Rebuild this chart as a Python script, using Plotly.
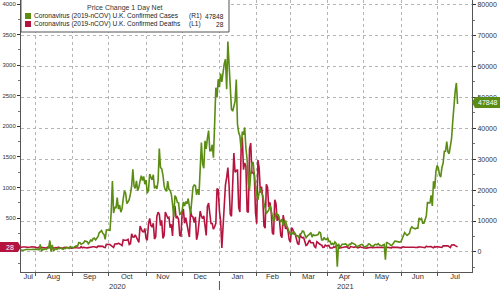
import pandas as pd
import plotly.graph_objects as go

# ---------------- data (daily, starting Sunday 2020-07-19) ----------------
START = "2020-07-19"
cases = [
    827, 580, 445, 560, 769, 767, 798,
    747, 685, 581, 763, 846, 880, 744,
    743, 758, 670, 2400, 150, 871, 758,
    1062, 816, 1148, 1400, 3700, 100, 2300,
    300, 713, 1089, 812, 1182, 1033, 1288,
    1041, 853, 1184, 1048, 1522, 1276, 1108,
    1715, 1406, 1295, 1508, 1735, 1940, 1813,
    2988, 2948, 2460, 2659, 2919, 3539, 3497,
    3330, 2621, 3105, 3991, 3395, 4322, 4422,
    3899, 4368, 4926, 6178, 6634, 6874, 6042,
    5693, 4044, 7143, 7108, 6914, 6968, 12872,
    22961, 12594, 14542, 14162, 17540, 13864, 15166,
    12872, 13972, 17234, 19724, 18980, 15650, 16171,
    16982, 18804, 21331, 26688, 21242, 20530, 23012,
    19790, 20890, 22885, 24701, 23065, 24405, 21915,
    23254, 18950, 20018, 25177, 24141, 23287, 24957,
    20572, 21350, 20412, 22950, 33470, 27301, 26860,
    24962, 21363, 20051, 19609, 22915, 20252, 19875,
    18662, 15450, 11299, 18213, 17555, 16022, 15871,
    12155, 12330, 13430, 16170, 14879, 16298, 15539,
    17272, 14718, 12282, 16578, 20964, 21672, 21502,
    18447, 20263, 18450, 25161, 35383, 28507, 27052,
    35928, 33364, 36804, 39237, 32725, 32725, 34693,
    30501, 41385, 53135, 50023, 55892, 53285, 57725,
    54990, 58784, 60916, 62322, 52618, 68053, 59937,
    54940, 46169, 45533, 47525, 48682, 55761, 41346,
    38598, 37535, 33355, 38905, 37892, 40261, 33552,
    30004, 22195, 20089, 25308, 28680, 29079, 23275,
    21088, 18607, 16840, 19202, 20634, 19114, 18262,
    15845, 14104, 12364, 13013, 13494, 15144, 13308,
    10972, 9765, 10625, 12718, 12057, 12027, 10406,
    9834, 10641, 8489, 9938, 9985, 8523, 7434,
    6035, 5455, 6391, 5766, 6573, 6040, 5177,
    5177, 4712, 5766, 5926, 6753, 6609, 5534,
    4618, 5089, 5294, 5758, 6303, 4802, 5587,
    5312, 5342, 5379, 5605, 6397, 6187, 3862,
    3862, 4654, 4040, 4052, 4479, 3402, 3423,
    2297, 2762, 2379, 3210, 2763, -4800, 2589,
    1730, 1882, 2472, 2491, 2672, 2596, 2206,
    1882, 2524, 2396, 2963, 2729, 2678, 2381,
    1712, 1907, 2064, 2166, 2411, 2381, 1671,
    1649, 1946, 1979, 2613, 2490, 2047, 1907,
    1770, 2357, 2474, 2284, 2657, 2193, 2027,
    1926, 2240, 2412, -2500, 3180, 2829, 2694,
    2235, 1979, 2439, 3180, 3542, 3398, 3240,
    3240, 3165, 3383, 4330, 5274, 6238, 5765,
    5341, 5683, 6048, 7540, 8125, 7738, 7490,
    7490, 7742, 7673, 11007, 10476, 10809, 9284,
    9284, 10633, 11625, 16135, 15810, 15810, 18270,
    14876, 22868, 20479, 26068, 27989, 27125, 24885,
    24248, 27334, 28773, 32548, 32551, 35707, 32367,
    31772, 34471, 36660, 42302, 48553, 51870, 54674,
    47848,
]
deaths = [
    24, 18, 26, 30, 22, 27, 20,
    19, 14, 25, 30, 22, 26, 20,
    12, 10, 24, 22, 18, 15, 13,
    11, 9, 24, 14, 19, 16, 17,
    11, 9, 18, 12, 22, 11, 8,
    8, 6, 22, 17, 18, 15, 18,
    7, 8, 9, 16, 18, 13, 12,
    8, 9, 32, 14, 20, 12, 15,
    11, 15, 30, 24, 26, 30, 30,
    22, 16, 40, 40, 42, 36, 36,
    20, 16, 71, 71, 59, 66, 49,
    33, 19, 76, 70, 77, 87, 81,
    65, 50, 143, 137, 138, 136, 150,
    67, 80, 241, 191, 189, 224, 174,
    151, 102, 367, 310, 280, 274, 326,
    162, 136, 397, 492, 378, 355, 413,
    156, 194, 532, 595, 563, 376, 462,
    168, 213, 598, 529, 501, 511, 341,
    398, 206, 608, 696, 498, 521, 479,
    215, 205, 603, 648, 414, 504, 397,
    231, 189, 616, 533, 516, 424, 519,
    144, 232, 506, 612, 532, 489, 534,
    326, 215, 691, 744, 570, 410, 410,
    316, 357, 414, 981, 964, 613, 445,
    10, 407, 830, 1041, 1162, 1325, 1035,
    563, 529, 1243, 1564, 1248, 1280, 1295,
    671, 599, 1610, 1820, 1290, 1401, 1348,
    610, 592, 1631, 1725, 1239, 1245, 1200,
    587, 406, 1449, 1322, 915, 1014, 828,
    373, 333, 1052, 1001, 678, 758, 621,
    258, 230, 799, 738, 454, 533, 445,
    215, 178, 548, 442, 323, 345, 290,
    144, 104, 343, 315, 242, 236, 158,
    82, 65, 231, 190, 175, 181, 121,
    52, 64, 110, 141, 95, 101, 96,
    33, 17, 112, 98, 70, 63, 58,
    19, 23, 56, 45, 51, 52, 10,
    10, 9, 26, 20, 45, 53, 40,
    7, 13, 23, 22, 27, 30, 32,
    10, 4, 33, 29, 22, 18, 32,
    17, 11, 17, 29, 22, 15, 15,
    10, 8, 14, 13, 19, 21, 16,
    14, 14, 18, 21, 19, 27, 17,
    14, 11, 15, 17, 22, 20, 16,
    14, 11, 24, 19, 20, 20, 20,
    16, 11, 11, 22, 28, 21, 22,
    14, 15, 23, 17, 27, 30, 22,
    18, 13, 19, 29, 29, 24, 21,
    17, 16, 37, 29, 31, 28, 33,
    21, 13, 33, 24, 32, 28, 28,
    25, 19, 47, 43, 45, 44, 44,
    36, 16, 60, 63, 63, 49, 41,
    28,
]
month_labels = ["Jul", "Aug", "Sep", "Oct", "Nov", "Dec", "Jan",
                "Feb", "Mar", "Apr", "May", "Jun", "Jul"]
month_label_dates = ["2020-07-26", "2020-08-16", "2020-09-15", "2020-10-16",
                     "2020-11-15", "2020-12-16", "2021-01-16", "2021-02-14",
                     "2021-03-16", "2021-04-15", "2021-05-16", "2021-06-15",
                     "2021-07-16"]
month_starts = ["2020-08-01", "2020-09-01", "2020-10-01", "2020-11-01",
                "2020-12-01", "2021-01-01", "2021-02-01", "2021-03-01",
                "2021-04-01", "2021-05-01", "2021-06-01", "2021-07-01"]
year_labels = ["2020", "2021"]
year_label_dates = ["2020-10-08", "2021-04-16"]
left_ticks = [0, 500, 1000, 1500, 2000, 2500, 3000, 3500, 4000]
right_ticks = [0, 10000, 20000, 30000, 40000, 50000, 60000, 70000, 80000]
cases_name = "Coronavirus (2019-nCOV) U.K. Confirmed Cases"
deaths_name = "Coronavirus (2019-nCOV) U.K. Confirmed Deaths"
cases_last = "47848"
deaths_last = "28"

# ---------------- styling ----------------
GREEN = "#5b8c14"
RED = "#b5143e"
FONT = "Liberation Sans"
W, H = 500, 290
ML, MR, MT, MB = 21, 28, 0, 18
PW, PH = W - ML - MR, H - MT - MB


def px(xp):
    return (xp - ML) / PW


def py(yp):
    return (H - MB - yp) / PH


dates = pd.date_range(START, periods=len(cases), freq="D")

fig = go.Figure()
fig.add_trace(go.Scatter(x=dates, y=deaths, yaxis="y", mode="lines",
                         line=dict(color=RED, width=1.6), showlegend=False,
                         name=deaths_name))
fig.add_trace(go.Scatter(x=dates, y=cases, yaxis="y2", mode="lines",
                         line=dict(color=GREEN, width=1.6), showlegend=False,
                         name=cases_name))

fig.update_layout(
    width=W, height=H,
    margin=dict(l=ML, r=MR, t=MT, b=MB, pad=0),
    paper_bgcolor="white", plot_bgcolor="white",
    font=dict(family=FONT, size=7, color="#333"),
    xaxis=dict(
        type="date", range=["2020-07-20", "2021-07-30"],
        tickvals=month_label_dates, ticktext=month_labels,
        ticks="", showgrid=False, showline=True, linecolor="#555", linewidth=1,
        tickfont=dict(size=7.5, color="#333"), ticklabelstandoff=-3,
        minor=dict(tickvals=month_starts, showgrid=True, griddash="dot",
                   gridcolor="#b5b5b5", gridwidth=1, ticks="outside",
                   ticklen=3, tickcolor="#555"),
        zeroline=False,
    ),
    yaxis=dict(
        range=[-383, 4066], tickvals=left_ticks,
        ticktext=[""] + [str(v) for v in left_ticks[1:]],
        showgrid=False, zeroline=False, showline=True, linecolor="#555",
        linewidth=1, ticks="outside", ticklen=3, tickcolor="#333",
        tickfont=dict(size=6, color="#333"),
        minor=dict(dtick=250, ticks="outside", ticklen=2, tickcolor="#777"),
    ),
    yaxis2=dict(
        range=[-6505, 81521], tickvals=right_ticks,
        ticktext=[str(v) for v in right_ticks], overlaying="y",
        side="right", showgrid=True, griddash="dot", gridcolor="#b5b5b5",
        zeroline=False, showline=True, linecolor="#555", linewidth=1,
        ticks="outside", ticklen=3, tickcolor="#333",
        tickfont=dict(size=7, color="#333"),
        minor=dict(dtick=5000, ticks="outside", ticklen=2, tickcolor="#777"),
    ),
)

shapes = []
annotations = []

# legend box
shapes.append(dict(type="rect", xref="paper", yref="paper",
                   x0=px(21), x1=px(229), y0=py(32), y1=py(-2),
                   fillcolor="white", line=dict(color="#555", width=1),
                   layer="above"))
annotations.append(dict(xref="paper", yref="paper", x=px(125), y=py(8),
                        text="Price Change 1 Day Net", showarrow=False,
                        xanchor="center", yanchor="middle",
                        font=dict(size=7, color="#333", family=FONT)))
for row_y, col, name, tag, val in [(16, GREEN, cases_name, "(R1)", cases_last),
                                   (24, RED, deaths_name, "(L1)", deaths_last)]:
    shapes.append(dict(type="rect", xref="paper", yref="paper",
                       x0=px(25), x1=px(31), y0=py(row_y + 3), y1=py(row_y - 3),
                       fillcolor=col, line=dict(width=0), layer="above"))
    annotations.append(dict(xref="paper", yref="paper", x=px(32), y=py(row_y),
                            text=name, showarrow=False, xanchor="left",
                            yanchor="middle",
                            font=dict(size=6.6, color="#222", family=FONT)))
    annotations.append(dict(xref="paper", yref="paper", x=px(187), y=py(row_y),
                            text=tag, showarrow=False, xanchor="left",
                            yanchor="middle",
                            font=dict(size=6.6, color="#222", family=FONT)))
    annotations.append(dict(xref="paper", yref="paper", x=px(226), y=py(row_y),
                            text=val, showarrow=False, xanchor="right",
                            yanchor="middle",
                            font=dict(size=6.6, color="#222", family=FONT)))

# year labels and separator
for lab, d in zip(year_labels, year_label_dates):
    annotations.append(dict(xref="x", yref="paper", x=d, y=py(286),
                            text=lab, showarrow=False, xanchor="center",
                            yanchor="middle",
                            font=dict(size=7.5, color="#333", family=FONT)))
shapes.append(dict(type="line", xref="x", yref="paper", x0="2021-01-01",
                   x1="2021-01-01", y0=py(281), y1=py(291),
                   line=dict(color="#555", width=1)))

# last value tags
shapes.append(dict(type="path", xref="paper", yref="paper",
                   path=f"M {px(0)} {py(242)} L {px(18)} {py(242)} L {px(21)} {py(247)} "
                        f"L {px(18)} {py(252)} L {px(0)} {py(252)} Z",
                   fillcolor=RED, line=dict(width=0), layer="above"))
annotations.append(dict(xref="paper", yref="paper", x=px(16), y=py(247),
                        text=deaths_last, showarrow=False, xanchor="right",
                        yanchor="middle",
                        font=dict(size=7, color="white", family=FONT)))
shapes.append(dict(type="path", xref="paper", yref="paper",
                   path=f"M {px(472)} {py(102.5)} L {px(475)} {py(97)} L {px(500)} {py(97)} "
                        f"L {px(500)} {py(108)} L {px(475)} {py(108)} Z",
                   fillcolor=GREEN, line=dict(width=0), layer="above"))
annotations.append(dict(xref="paper", yref="paper", x=px(476), y=py(102.5),
                        text=cases_last, showarrow=False, xanchor="left",
                        yanchor="middle",
                        font=dict(size=7, color="white", family=FONT)))

fig.update_layout(shapes=shapes, annotations=annotations)
fig.write_html("out.html")
